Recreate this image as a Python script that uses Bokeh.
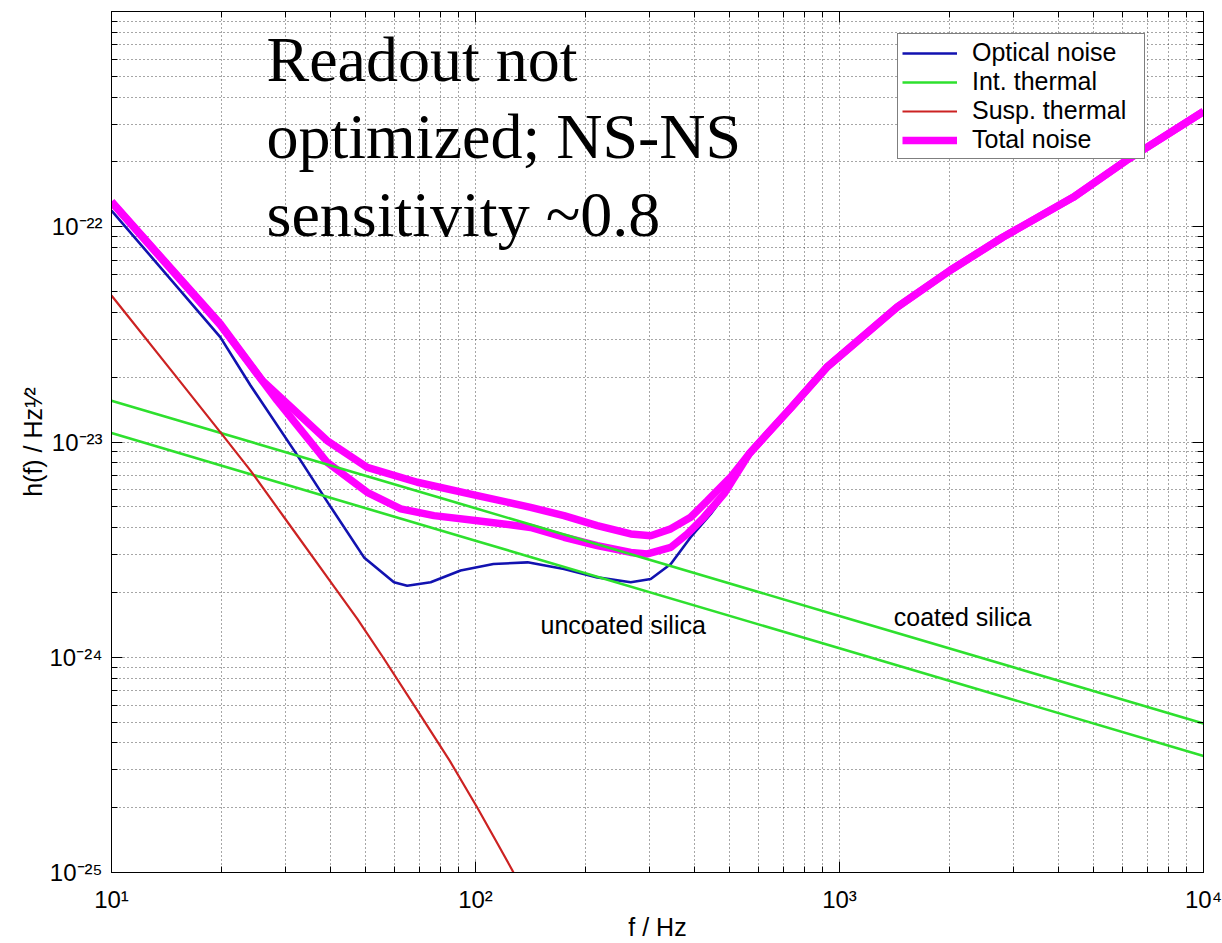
import math
from bokeh.plotting import figure
from bokeh.models import (FixedTicker, LogAxis, Label, Legend, LegendItem,
                          CustomJSTickFormatter, Range1d)
from bokeh.embed import file_html
from bokeh.resources import INLINE

# ---------------- data ----------------
f_optical = [10, 19.9, 24.1, 32.0, 39.5, 49.4, 59.7, 64.9, 75.3, 91.0, 112, 139,
             175, 216, 267, 303, 344, 390, 443, 502, 565, 620, 738, 922, 1440,
             2011, 2809, 4385, 6128, 10000]
h_optical = [1.19e-22, 3.07e-23, 1.83e-23, 8.95e-24, 5.16e-24, 2.91e-24, 2.23e-24,
             2.15e-24, 2.23e-24, 2.53e-24, 2.71e-24, 2.76e-24, 2.57e-24, 2.35e-24,
             2.23e-24, 2.31e-24, 2.71e-24, 3.61e-24, 4.63e-24, 6.16e-24, 8.81e-24,
             1.05e-23, 1.45e-23, 2.22e-23, 4.23e-23, 6.26e-23, 8.94e-23, 1.37e-22,
             2.03e-22, 3.43e-22]

f_total_coated = [10, 19.9, 25.95, 39.1, 50.4, 69.2, 101.2, 141.7, 175, 216, 267,
                  303, 344, 390, 433.5, 502, 565, 620, 738, 922, 1440, 2011, 2809,
                  4385, 6128, 10000]
h_total_coated = [1.31e-22, 3.54e-23, 1.93e-23, 1.015e-23, 7.63e-24, 6.50e-24,
                  5.64e-24, 4.97e-24, 4.55e-24, 4.09e-24, 3.74e-24, 3.67e-24,
                  3.95e-24, 4.47e-24, 5.34e-24, 6.86e-24, 8.81e-24, 1.05e-23,
                  1.45e-23, 2.22e-23, 4.23e-23, 6.26e-23, 8.94e-23, 1.37e-22,
                  2.03e-22, 3.43e-22]

f_total_uncoated = [10, 19.9, 28.5, 39.1, 50.4, 62.3, 76.9, 101.2, 141.7, 175, 216,
                    267, 296.6, 344, 382, 424, 481.5, 565, 620, 738, 922, 1440,
                    2011, 2809, 4385, 6128, 10000]
h_total_uncoated = [1.30e-22, 3.50e-23, 1.56e-23, 8.05e-24, 5.84e-24, 4.89e-24,
                    4.55e-24, 4.31e-24, 4.01e-24, 3.61e-24, 3.30e-24, 3.07e-24,
                    3.02e-24, 3.24e-24, 3.74e-24, 4.47e-24, 5.74e-24, 8.81e-24,
                    1.05e-23, 1.45e-23, 2.22e-23, 4.23e-23, 6.26e-23, 8.94e-23,
                    1.37e-22, 2.03e-22, 3.43e-22]

f_int = [10, 100, 1000, 10000]
h_int_coated = [1.556e-23, 4.92e-24, 1.556e-24, 4.92e-25]
h_int_uncoated = [1.10e-23, 3.48e-24, 1.10e-24, 3.48e-25]

f_susp = [10, 15, 20, 24.1, 30, 40, 47.3, 55.7, 70, 85, 101, 115, 126, 132]
h_susp = [4.79e-23, 2.03e-23, 1.10e-23, 7.36e-24, 4.40e-24, 2.24e-24, 1.51e-24,
          1.0e-24, 5.5e-25, 3.3e-25, 2.01e-25, 1.36e-25, 1.03e-25, 8.8e-26]

x_major = [10, 100, 1000, 10000]
y_major = [1e-25, 1e-24, 1e-23, 1e-22, 1e-21]

legend_labels = ["Optical noise", "Int. thermal", "Susp. thermal", "Total noise"]
title_lines = ["Readout not", "optimized; NS-NS", "sensitivity ~0.8"]
x_title = "f / Hz"
y_title = "h(f) / Hz\u00b9\u2044\u00b2"

# ---------------- styling ----------------
C_BLUE = "#1212b0"
C_GREEN = "#2ee02e"
C_RED = "#cc2222"
C_MAG = "#ff00ff"
SANS = "Liberation Sans"
SERIF = "Liberation Serif"

x_minor = [k * 10 ** n for n in range(1, 4) for k in range(2, 10)]
y_minor = [k * 10.0 ** n for n in range(-25, -21) for k in range(2, 10)]
xticker = FixedTicker(ticks=x_major, minor_ticks=x_minor)
yticker = FixedTicker(ticks=y_major, minor_ticks=y_minor)

p = figure(width=1222, height=943, x_axis_type="log", y_axis_type="log",
           x_range=Range1d(10, 1e4), y_range=Range1d(1e-25, 1e-21),
           output_backend="svg", toolbar_location=None,
           min_border_left=111, min_border_right=19, min_border_top=11,
           min_border_bottom=71)
p.background_fill_color = "white"
p.border_fill_color = "white"
p.outline_line_color = "black"
p.outline_line_width = 1

SUP_JS = """
const e = Math.round(Math.log10(tick));
if (e > SKIP) { return ""; }
const sup = {"-": "\\u207B", "0": "\\u2070", "1": "\\u00B9", "2": "\\u00B2",
             "3": "\\u00B3", "4": "\\u2074", "5": "\\u2075", "6": "\\u2076",
             "7": "\\u2077", "8": "\\u2078", "9": "\\u2079"};
let s = "";
for (const c of String(e)) { s += sup[c]; }
return "10" + s;
"""
x_fmt = CustomJSTickFormatter(code=SUP_JS.replace("SKIP", "10"))
y_fmt = CustomJSTickFormatter(code=SUP_JS.replace("SKIP", "-22"))
empty_fmt = CustomJSTickFormatter(code="return ''")


def style_axis(ax, ticker, fmt, labelled):
    ax.ticker = ticker
    ax.formatter = fmt
    ax.major_tick_in = 11
    ax.major_tick_out = 0
    ax.minor_tick_in = 6
    ax.minor_tick_out = 0
    ax.axis_line_color = "black"
    ax.major_tick_line_color = "black"
    ax.minor_tick_line_color = "black"
    if labelled:
        ax.major_label_text_font = SANS
        ax.major_label_text_font_size = "24px"
        ax.major_label_text_color = "black"
        ax.axis_label_text_font = SANS
        ax.axis_label_text_font_size = "25px"
        ax.axis_label_text_font_style = "normal"
        ax.axis_label_text_color = "black"
    else:
        ax.major_label_text_font_size = "0px"
        ax.major_label_standoff = 0
        ax.axis_label = None


xa = p.xaxis[0]
ya = p.yaxis[0]
style_axis(xa, xticker, x_fmt, True)
style_axis(ya, yticker, y_fmt, True)
xa.major_label_standoff = 13
xa.axis_label = x_title
xa.axis_label_standoff = -3
ya.major_label_standoff = 9
ya.axis_label = y_title
ya.axis_label_standoff = 0

ax_top = LogAxis()
style_axis(ax_top, xticker, empty_fmt, False)
p.add_layout(ax_top, "above")
ax_right = LogAxis()
style_axis(ax_right, yticker, empty_fmt, False)
p.add_layout(ax_right, "right")

for g, t in ((p.xgrid[0], xticker), (p.ygrid[0], yticker)):
    g.ticker = t
    g.grid_line_color = "#202020"
    g.grid_line_dash = "1 3"
    g.grid_line_alpha = 0.8
    g.grid_line_width = 1
    g.minor_grid_line_color = "#202020"
    g.minor_grid_line_dash = "1 3"
    g.minor_grid_line_alpha = 0.8
    g.minor_grid_line_width = 1

# ---------------- curves ----------------
r_opt = p.line(f_optical, h_optical, line_color=C_BLUE, line_width=2.6)
r_tot_c = p.line(f_total_coated, h_total_coated, line_color=C_MAG, line_width=7.5)
r_tot_u = p.line(f_total_uncoated, h_total_uncoated, line_color=C_MAG, line_width=7.5)
r_int_c = p.line(f_int, h_int_coated, line_color=C_GREEN, line_width=2.6)
r_int_u = p.line(f_int, h_int_uncoated, line_color=C_GREEN, line_width=2.6)
r_susp = p.line(f_susp, h_susp, line_color=C_RED, line_width=2.2)

legend = Legend(items=[
    LegendItem(label=legend_labels[0], renderers=[r_opt]),
    LegendItem(label=legend_labels[1], renderers=[r_int_c]),
    LegendItem(label=legend_labels[2], renderers=[r_susp]),
    LegendItem(label=legend_labels[3], renderers=[r_tot_c]),
], location=(786, 713))
legend.label_text_font = SANS
legend.label_text_font_size = "25px"
legend.label_text_color = "black"
legend.label_height = 28
legend.glyph_height = 28
legend.glyph_width = 55
legend.label_standoff = 15
legend.label_width = 168
legend.spacing = 0
legend.padding = 4
legend.margin = 0
legend.border_line_color = "black"
legend.border_line_width = 1
legend.background_fill_color = "white"
legend.background_fill_alpha = 1
p.add_layout(legend)

# ---------------- annotations (inside the frame) ----------------
for i, yy in enumerate([812.7, 736.4, 658.0]):
    p.add_layout(Label(x=155, y=yy, x_units="screen", y_units="screen",
                       text=title_lines[i], text_align="left",
                       text_baseline="alphabetic", text_font=SERIF,
                       text_font_size="64px", text_color="black"))
p.add_layout(Label(x=429, y=248, x_units="screen", y_units="screen",
                   text="uncoated silica", text_align="left",
                   text_baseline="alphabetic", text_font=SANS,
                   text_font_size="25px", text_color="black"))
p.add_layout(Label(x=782.3, y=255.7, x_units="screen", y_units="screen",
                   text="coated silica", text_align="left",
                   text_baseline="alphabetic", text_font=SANS,
                   text_font_size="25px", text_color="black"))

open("out.html", "w", encoding="utf-8").write(file_html(p, INLINE))
